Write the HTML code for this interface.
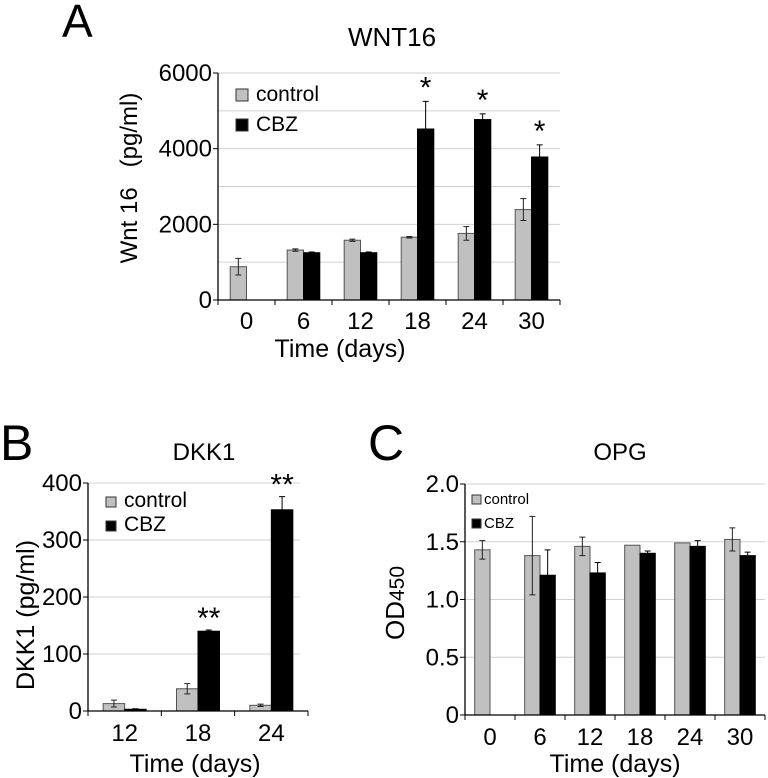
<!DOCTYPE html>
<html><head><meta charset="utf-8"><style>
html,body{margin:0;padding:0;background:#fff;}
svg{display:block;font-family:"Liberation Sans",Arial,sans-serif;}
</style></head><body>
<svg id="fig" width="768" height="778" viewBox="0 0 768 778">
<text x="62" y="37" font-size="46">A</text>
<text x="392" y="46" font-size="26" text-anchor="middle">WNT16</text>
<text transform="translate(137,178) rotate(-90)" font-size="24" text-anchor="middle" xml:space="preserve">Wnt 16   (pg/ml)</text>
<text x="340" y="357" font-size="25" text-anchor="middle">Time (days)</text>
<text x="0" y="460" font-size="50">B</text>
<text x="204" y="460" font-size="24" text-anchor="middle">DKK1</text>
<text transform="translate(34,615) rotate(-90)" font-size="25" text-anchor="middle">DKK1 (pg/ml)</text>
<text x="195" y="772" font-size="25" text-anchor="middle">Time (days)</text>
<text x="368" y="460" font-size="50">C</text>
<text x="620" y="460" font-size="24" text-anchor="middle">OPG</text>
<text transform="translate(404,603) rotate(-90)" font-size="26" text-anchor="middle">OD<tspan font-size="21">450</tspan></text>
<text x="615" y="772" font-size="25" text-anchor="middle">Time (days)</text>
<g id="charts"></g>
</svg>
<script>
const aCats=["0","6","12","18","24","30"];
const aCtrl=[880,1320,1580,1660,1760,2390];
const aCtrlErr=[220,30,30,20,180,290];
const aCbz=[null,1250,1250,4520,4770,3780];
const aCbzErr=[null,20,20,730,150,320];
const aStars=["","","","*","*","*"];
const aTicks=[0,2000,4000,6000];
const aGrid=[1000,2000,3000,4000,5000,6000];

const bCats=["12","18","24"];
const bCtrl=[13,39,10];
const bCtrlErr=[6,9,2];
const bCbz=[3,140,353];
const bCbzErr=[1,2,23];
const bStars=["","**","**"];
const bTicks=[0,100,200,300,400];

const cCats=["0","6","12","18","24","30"];
const cCtrl=[1.43,1.38,1.46,1.47,1.49,1.52];
const cCtrlErr=[0.08,0.34,0.08,0,0,0.1];
const cCbz=[null,1.21,1.23,1.40,1.46,1.38];
const cCbzErr=[null,0.22,0.09,0.02,0.05,0.03];
const cTicks=["0","0.5","1.0","1.5","2.0"];
const cTickVals=[0,0.5,1.0,1.5,2.0];

const NS="http://www.w3.org/2000/svg";
const root=document.getElementById('charts');
function mk(tag,attrs,parent,txt){const e=document.createElementNS(NS,tag);for(const k in attrs)e.setAttribute(k,attrs[k]);if(txt!==undefined)e.textContent=txt;(parent||root).appendChild(e);return e;}

function drawChart(o){
  const g=mk('g',{});
  
  
  const y=v=>o.y0-(v-o.vmin)/(o.vmax-o.vmin)*(o.y0-o.y1);
  const gw=(o.x1-o.x0)/o.cats.length;
  const xc=i=>o.x0+gw*(i+0.5);
  o.grid.forEach(v=>{const l=mk('line',{x1:o.x0,x2:o.gx,y1:y(v),y2:y(v),stroke:'#d0d0d0','stroke-width':1},g);
    
    });
  o.cats.forEach((c,i)=>{
    const bars=[[o.ctrl[i],o.ctrlErr[i],'#c0c0c0',-1],[o.cbz[i],o.cbzErr[i],'#000',0]];
    bars.forEach(([v,e,f,off])=>{
      if(v===null)return;
      const bx=xc(i)+off*o.bw;
      const r=mk('rect',{x:bx,y:y(v),width:o.bw,height:o.y0-y(v),fill:f,stroke:f==='#000'?'#000':'#555','stroke-width':1},g);
      
      
      if(e){const cx=bx+o.bw/2;
        const p=mk('path',{d:`M${cx},${y(v+e)}V${y(v-e)}M${cx-3},${y(v+e)}H${cx+3}M${cx-3},${y(v-e)}H${cx+3}`,stroke:f==='#000'?'#000':'#222','stroke-width':1,fill:'none'},g);
        
        }
      if(f==='#000'&&o.stars&&o.stars[i]){
        const t=mk('text',{x:bx+o.bw/2,y:y(v+e)-o.starGap,'font-size':o.starSize,'text-anchor':'middle'},g,o.stars[i]);
        
        }
    });
    const t=mk('text',{x:xc(i),y:o.y0+o.labOff,'font-size':o.fs,'text-anchor':'middle'},g,c);
    
    
  });
  for(let i=0;i<=o.cats.length;i++){mk('line',{x1:o.x0+gw*i,x2:o.x0+gw*i,y1:o.y0,y2:o.y0+5,stroke:'#000'},g);}
  mk('line',{x1:o.x0,x2:o.x1,y1:o.y0,y2:o.y0,stroke:'#000','stroke-width':1.3},g);
  mk('line',{x1:o.x0,x2:o.x0,y1:o.y1,y2:o.y0,stroke:'#000','stroke-width':1.3},g);
  o.tickVals.forEach((v,i)=>{mk('line',{x1:o.x0-5,x2:o.x0,y1:y(v),y2:y(v),stroke:'#000'},g);
    const t=mk('text',{x:o.x0-6,y:y(v)+8,'font-size':o.fs,'text-anchor':'end'},g,o.tickLabels[i]);
    
    });
  [['control','#c0c0c0',0],['CBZ','#000',1]].forEach(([n,f,k])=>{
    const ly=o.leg.y+k*o.leg.dy;
    const s=mk('rect',{x:o.leg.x,y:ly,width:o.leg.s,height:o.leg.s,fill:f,stroke:'#333'},g);
    
    
    const t=mk('text',{x:o.leg.x+o.leg.s+o.leg.gap,y:ly+o.leg.s,'font-size':o.leg.fs},g,n);
    
    });
}

drawChart({name:'wnt16-chart',cats:aCats,ctrl:aCtrl,ctrlErr:aCtrlErr,cbz:aCbz,cbzErr:aCbzErr,stars:aStars,
  x0:218,x1:560,gx:560,y0:300,y1:73,vmin:0,vmax:6000,bw:16.3,grid:aGrid,tickVals:aTicks,tickLabels:aTicks.map(String),
  fs:24,labOff:29,starGap:4,starSize:30,leg:{x:236,y:89,dy:30,s:12,gap:8,fs:21}});
drawChart({name:'dkk1-chart',cats:bCats,ctrl:bCtrl,ctrlErr:bCtrlErr,cbz:bCbz,cbzErr:bCbzErr,stars:bStars,
  x0:88,x1:308,gx:300,y0:711,y1:483,vmin:0,vmax:400,bw:21.5,grid:[100,200,300,400],tickVals:bTicks,tickLabels:bTicks.map(String),
  fs:24,labOff:30,starGap:2,starSize:30,leg:{x:106,y:497,dy:24,s:10,gap:8,fs:21}});
drawChart({name:'opg-chart',cats:cCats,ctrl:cCtrl,ctrlErr:cCtrlErr,cbz:cCbz,cbzErr:cCbzErr,stars:null,
  x0:465,x1:765,gx:765,y0:715,y1:484,vmin:0,vmax:2,bw:15.3,grid:[0.5,1.0,1.5,2.0],tickVals:cTickVals,tickLabels:cTicks,
  fs:24,labOff:30,starGap:2,starSize:24,leg:{x:472,y:495,dy:24,s:9,gap:3,fs:15}});
</script>
</body></html>
